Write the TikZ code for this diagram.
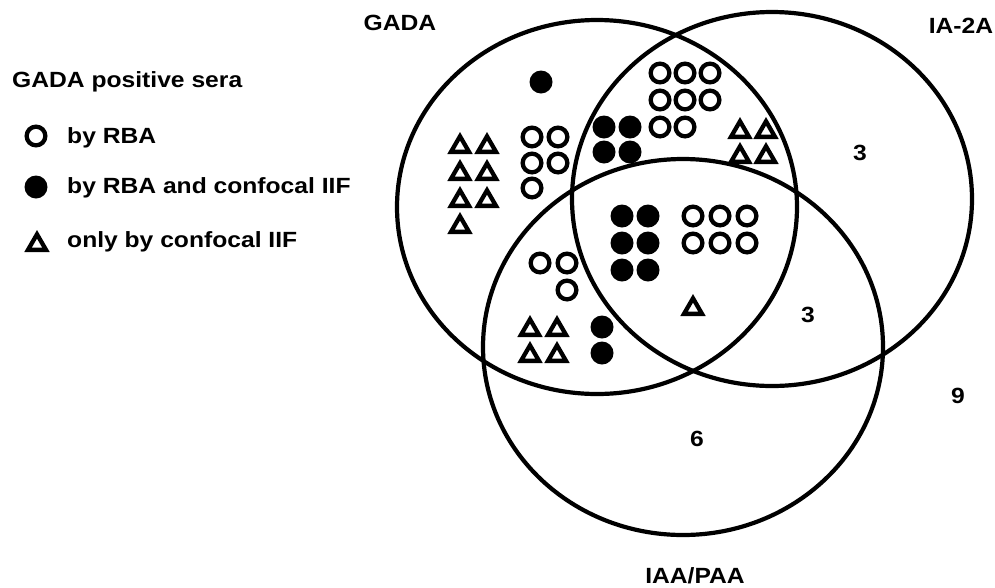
\documentclass[tikz,border=0pt]{standalone}
\usepackage{fontspec}
\setmainfont{Liberation Sans}
\usepackage{graphicx}
\newcommand\wtext[1]{\scalebox{1.12}[1]{#1}}
\newcommand\opc[2]{\draw[opn] (#1,#2) circle[radius=9.35pt];}
\newcommand\flc[2]{\fill (#1,#2) circle[radius=11.5pt];}
\newcommand\trg[2]{\draw[opn] (#1,#2) ++(0,-6.7) -- ++(9,15.55) -- ++(-18,0) -- cycle;}
\begin{document}
\begin{tikzpicture}[x=1pt,y=-1pt,
  ring/.style={line width=4.2pt},
  opn/.style={line width=4.3pt, miter limit=10},
  lbl/.style={font=\fontsize{22}{26}\selectfont\bfseries, inner sep=0pt}]
\useasboundingbox (0,0) rectangle (995,587);
\fill[white] (0,0) rectangle (995,587);
% sets
\draw[ring] (597,207) ellipse [x radius=200pt, y radius=187pt];
\draw[ring] (772,199) ellipse [x radius=200pt, y radius=187pt];
\draw[ring] (683,347) ellipse [x radius=200pt, y radius=188pt];
% set labels
\node[lbl, anchor=base] (lgada) at (400,30) {\wtext{GADA}};
\node[lbl, anchor=base] (lia) at (961,33) {\wtext{IA-2A}};
\node[lbl, anchor=base] (liaa) at (695,583) {\wtext{IAA/PAA}};
% counts
\node[lbl, anchor=base] (n1) at (860,160) {\wtext{3}};
\node[lbl, anchor=base] (n2) at (808,322) {\wtext{3}};
\node[lbl, anchor=base] (n3) at (958,403) {\wtext{9}};
\node[lbl, anchor=base] (n4) at (697,446) {\wtext{6}};
% legend
\node[lbl, anchor=base west] (lt) at (12,87) {\wtext{GADA positive sera}};
\opc{36}{136}
\node[lbl, anchor=base west] (l1) at (67,143) {\wtext{by RBA}};
\flc{36}{187}
\node[lbl, anchor=base west] (l2) at (67,193) {\wtext{by RBA and confocal IIF}};
\trg{37}{241}
\node[lbl, anchor=base west] (l3) at (67,247) {\wtext{only by confocal IIF}};
% GADA only
\flc{541}{82}
\trg{460}{143}\trg{487}{143}
\trg{460}{170}\trg{487}{170}
\trg{460}{197}\trg{487}{197}
\trg{460}{223}
\opc{532}{137}\opc{558}{137}
\opc{532}{163}\opc{558}{163}
\opc{532}{188}
% GADA and IA-2A
\opc{660}{73}\opc{685}{73}\opc{710}{73}
\opc{660}{100}\opc{685}{100}\opc{710}{100}
\opc{660}{127}\opc{685}{127}
\flc{604}{127}\flc{630}{127}
\flc{604}{152}\flc{630}{152}
\trg{740}{128}\trg{766}{128}
\trg{740}{153}\trg{766}{153}
% all three
\flc{622}{216}\flc{648}{216}
\flc{622}{243}\flc{648}{243}
\flc{622}{270}\flc{648}{270}
\opc{693}{216}\opc{720}{216}\opc{747}{216}
\opc{693}{243}\opc{720}{243}\opc{747}{243}
\trg{693}{305}
% GADA and IAA/PAA
\opc{540}{263}\opc{567}{263}
\opc{567}{290}
\trg{530}{326}\trg{557}{326}
\trg{530}{352}\trg{557}{352}
\flc{602}{327}
\flc{602}{353}
\end{tikzpicture}
\end{document}
